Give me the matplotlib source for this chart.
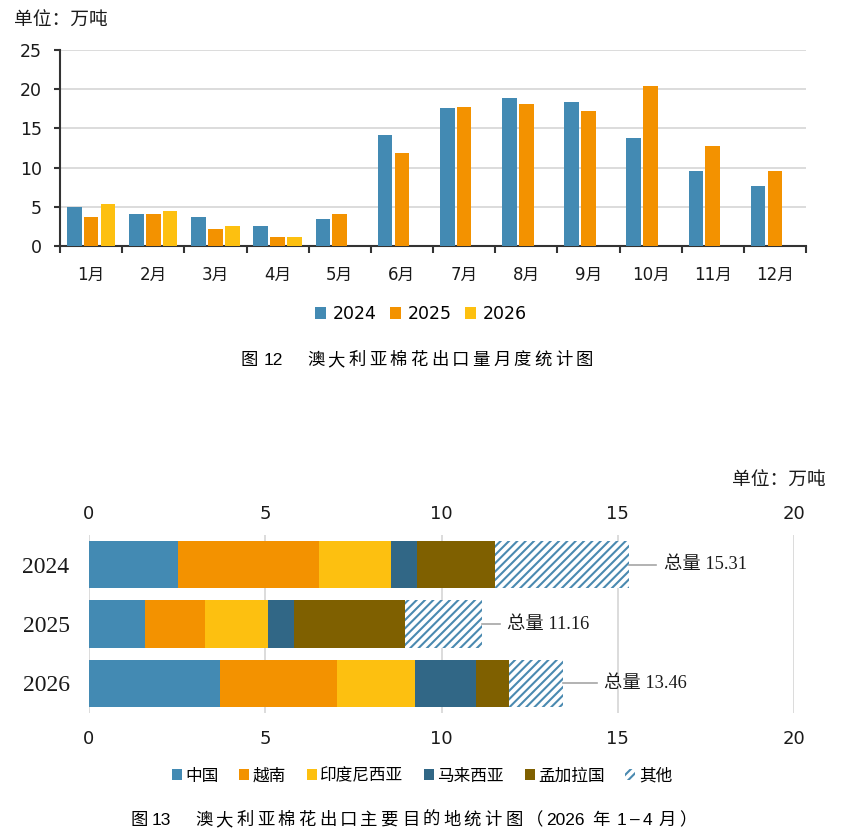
import numpy as np
import matplotlib
matplotlib.use("Agg")
import matplotlib.pyplot as plt

# ---------------- data ----------------
months = ["1月", "2月", "3月", "4月", "5月", "6月", "7月", "8月", "9月", "10月", "11月", "12月"]
exp_2024 = [5.0, 4.1, 3.7, 2.55, 3.45, 14.15, 17.6, 18.9, 18.4, 13.8, 9.55, 7.65]
exp_2025 = [3.7, 4.1, 2.2, 1.15, 4.1, 11.85, 17.7, 18.1, 17.2, 20.4, 12.75, 9.55]
exp_2026 = [5.35, 4.45, 2.55, 1.1]
year_labels = ["2024", "2025", "2026"]

years = ["2024", "2025", "2026"]
dest_names = ["中国", "越南", "印度尼西亚", "马来西亚", "孟加拉国", "其他"]
china = [2.52, 1.59, 3.72]
vietnam = [4.00, 1.70, 3.32]
indonesia = [2.05, 1.79, 2.21]
malaysia = [0.74, 0.74, 1.73]
bangladesh = [2.21, 3.14, 0.94]
others = [3.79, 2.20, 1.54]
x_ticks2 = [0, 5, 10, 15, 20]

# ---------------- style ----------------
W, H = 864, 838
plt.rcParams["font.family"] = ["DejaVu Sans", "Noto Sans CJK SC"]
plt.rcParams["hatch.linewidth"] = 1.5
CJK = ["Noto Sans CJK SC", "DejaVu Sans"]
CAP = ["Liberation Sans", "Noto Sans CJK SC"]
SERIF = ["Liberation Serif", "Noto Sans CJK SC"]

c_blue = "#438AB3"
c_orange = "#F39200"
c_yellow = "#FDC010"
c_dblue = "#316786"
c_brown = "#7F6000"
c_hatch = "#4A8AB0"
grid_c = "#D9D9D9"
txt_c = "#1A1A1A"

fig = plt.figure(figsize=(W / 100, H / 100), dpi=100)


def fx(px):
    return px / W


def fy(py):
    return 1 - py / H


# ---------------- top chart ----------------
ax1 = fig.add_axes([fx(60), fy(246), fx(806) - fx(60), fy(50) - fy(246)])
x = np.arange(len(months))
bw = 0.235
off = 0.27
ax1.bar(x - off, exp_2024, width=bw, color=c_blue, label=year_labels[0], zorder=3)
ax1.bar(x, exp_2025, width=bw, color=c_orange, label=year_labels[1], zorder=3)
ax1.bar(x[:len(exp_2026)] + off, exp_2026, width=bw, color=c_yellow, label=year_labels[2], zorder=3)

ax1.set_xlim(-0.5, len(months) - 0.5)
ax1.set_ylim(0, 25)
ax1.set_yticks([0, 5, 10, 15, 20, 25])
ax1.set_xticks(x)
ax1.set_xticklabels(months)
ax1.set_xticks(np.arange(-0.5, len(months)), minor=True)
ax1.tick_params(axis="x", which="major", length=0, pad=14, labelsize=12, labelcolor=txt_c)
ax1.tick_params(axis="x", which="minor", length=5, width=1.5, color="#333333")
ax1.tick_params(axis="y", length=4, width=1.5, color="#333333", pad=9, labelsize=12.5, labelcolor=txt_c)
for s in ["top", "right"]:
    ax1.spines[s].set_visible(False)
for s in ["left", "bottom"]:
    ax1.spines[s].set_linewidth(1.5)
    ax1.spines[s].set_color("#333333")
for v in [5, 10, 15, 20, 25]:
    ax1.axhline(v, color=grid_c, lw=1.3, zorder=1)

fig.legend(loc="center", bbox_to_anchor=(fx(421), fy(314)), ncol=3, frameon=False,
           fontsize=12.5, handlelength=0.65, handleheight=0.65, handletextpad=0.4,
           columnspacing=0.75)

fig.text(fx(14), fy(20), "单位：万吨", family=CJK, fontsize=13.5, ha="left", va="center", color=txt_c)

# ---------------- bottom chart ----------------
ax2 = fig.add_axes([fx(89), fy(713), fx(794) - fx(89), fy(535) - fy(713)])
yy = np.arange(len(years))
series = [china, vietnam, indonesia, malaysia, bangladesh]
colors = [c_blue, c_orange, c_yellow, c_dblue, c_brown]
left = np.zeros(len(years))
for vals, col, name in zip(series, colors, dest_names[:5]):
    ax2.barh(yy, vals, left=left, height=0.8, color=col, zorder=3, label=name)
    left += np.array(vals)
ax2.barh(yy, others, left=left, height=0.8, color="white", edgecolor=c_hatch,
         hatch="////", linewidth=0, zorder=3, label=dest_names[5])
totals = left + np.array(others)

ax2.set_ylim(2.5, -0.5)
ax2.set_xlim(0, 20)
ax2.set_xticks(x_ticks2)
ax2.set_yticks(yy)
ax2.set_yticklabels(years, family=SERIF, fontsize=17)
ax2.tick_params(axis="y", length=0, pad=14, labelcolor=txt_c)
ax2.tick_params(axis="x", length=0, labelsize=13, pad=12, labelcolor=txt_c)
for s in ax2.spines.values():
    s.set_visible(False)
for v in x_ticks2:
    ax2.axvline(v, color=grid_c, lw=1.3, zorder=1)

sec = ax2.secondary_xaxis("top")
sec.set_xticks(x_ticks2)
sec.tick_params(axis="x", length=0, labelsize=13, pad=8.5, labelcolor=txt_c)
sec.spines["top"].set_visible(False)

line_off = [0.77, 0.51, 0.96]
text_off = [0.99, 0.71, 1.16]
for i, t in enumerate(totals):
    ax2.plot([t, t + line_off[i]], [i, i], color="#A6A6A6", lw=1.2, zorder=4, clip_on=False)
    ax2.text(t + text_off[i], i, f"总量 {t:.2f}", family=SERIF, fontsize=13.2,
             va="center", ha="left", color=txt_c)

fig.text(fx(826), fy(480), "单位：万吨", family=CJK, fontsize=13.5, ha="right", va="center", color=txt_c)

h2, l2 = ax2.get_legend_handles_labels()
fig.legend(h2, l2, loc="center", bbox_to_anchor=(fx(422), fy(776)), ncol=6, frameon=False,
           prop={"family": CJK, "size": 12}, handlelength=0.6, handleheight=0.6,
           handletextpad=0.2, columnspacing=1.25)

# ---------------- captions with letter spacing ----------------
renderer = fig.canvas.get_renderer()


def tracked(x0, y, tokens, size, tracking):
    xp = x0
    for tok in tokens:
        if isinstance(tok, (int, float)):
            xp += tok
            continue
        t = fig.text(fx(xp), fy(y), tok, family=CAP, fontsize=size, ha="left", va="center",
                     color="#000000")
        xp += t.get_window_extent(renderer).width + tracking


cap1 = ["图", 2, "12", "　"] + list("澳大利亚棉花出口量月度统计图")
tracked(241, 360, cap1, 12.5, 3.3)
cap2 = (["图", "13", "　"] + list("澳大利亚棉花出口主要目的地统计图")
        + ["（", "2026", 3.5, "年", 4, "1", "–", "4", 2.7, "月", "）"])
tracked(131, 820, cap2, 12.5, 3.3)

fig.savefig("out.png", dpi=100)
